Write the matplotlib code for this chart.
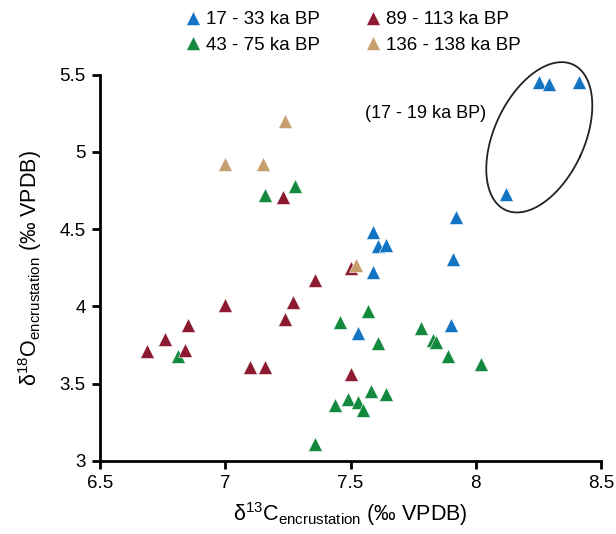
import numpy as np
import matplotlib
matplotlib.use('Agg')
from matplotlib import pyplot as plt

plt.rcParams['font.family'] = ['Liberation Sans', 'DejaVu Sans']
plt.rcParams['mathtext.fontset'] = 'custom'
plt.rcParams['mathtext.rm'] = 'Liberation Sans'

# %% Data
labels = ['17 - 33 ka BP', '43 - 75 ka BP', '89 - 113 ka BP', '136 - 138 ka BP']
colours = ['#1474c4', '#12893f', '#8c1a30', '#c79e6e']

c13_a = [8.25, 8.29, 8.41, 8.12, 7.92, 7.59, 7.61, 7.64, 7.91, 7.59, 7.90, 7.53]
o18_a = [5.45, 5.44, 5.45, 4.73, 4.58, 4.48, 4.39, 4.40, 4.31, 4.22, 3.88, 3.83]

c13_b = [7.16, 7.28, 6.81, 7.46, 7.57, 7.61, 7.78, 7.83, 7.84, 7.89, 8.02,
         7.58, 7.64, 7.49, 7.53, 7.55, 7.44, 7.36]
o18_b = [4.72, 4.78, 3.68, 3.90, 3.97, 3.76, 3.86, 3.78, 3.77, 3.68, 3.63,
         3.45, 3.43, 3.40, 3.38, 3.33, 3.36, 3.11]

c13_c = [7.23, 7.50, 7.36, 7.00, 7.27, 7.24, 6.85, 6.76, 6.69, 6.84, 7.10,
         7.16, 7.50]
o18_c = [4.71, 4.25, 4.17, 4.01, 4.03, 3.92, 3.88, 3.79, 3.71, 3.72, 3.61,
         3.61, 3.56]

c13_d = [7.24, 7.00, 7.15, 7.52]
o18_d = [5.20, 4.92, 4.92, 4.27]

groups = [(c13_a, o18_a), (c13_b, o18_b), (c13_c, o18_c), (c13_d, o18_d)]

# %% Plot
fig = plt.figure(figsize=(6.16, 5.34), dpi=100)
ax = fig.add_axes([0.162, 0.137, 0.814, 0.723])

for (x, y), lab, col in zip(groups, labels, colours):
    ax.plot(x, y, '^', ms=10.5, color=col, mec='white', mew=0.4,
            ls='none', label=lab, clip_on=False)

ax.set_xlim(6.5, 8.5)
ax.set_ylim(3, 5.5)
ax.set_xticks([6.5, 7, 7.5, 8, 8.5])
ax.set_xticklabels(['6.5', '7', '7.5', '8', '8.5'])
ax.set_yticks([3, 3.5, 4, 4.5, 5, 5.5])
ax.set_yticklabels(['3', '3.5', '4', '4.5', '5', '5.5'])

for s in ['top', 'right']:
    ax.spines[s].set_visible(False)
for s in ['left', 'bottom']:
    ax.spines[s].set_linewidth(2)
ax.tick_params(width=2, length=6, labelsize=13.5, pad=4)

ax.set_xlabel(r'δ$^{13}$C$_{\mathrm{encrustation}}$ (‰ VPDB)', fontsize=15.5,
              labelpad=6)
ax.set_ylabel(r'δ$^{18}$O$_{\mathrm{encrustation}}$ (‰ VPDB)', fontsize=15.5,
              labelpad=11)

# ellipse round the youngest group, drawn in pixel units then mapped to data
px_x, px_y = 250.5, 154.0
cx, cy = 8.253, 5.095
a, b, th = 80, 45, np.radians(25)
t = np.linspace(0, 2 * np.pi, 200)
ex = b * np.cos(t) * np.cos(th) + a * np.sin(t) * np.sin(th)
ey = -b * np.cos(t) * np.sin(th) + a * np.sin(t) * np.cos(th)
ax.plot(cx + ex / px_x, cy + ey / px_y, color='#222222', lw=1.3,
        clip_on=False)
ax.text(7.80, 5.25, '(17 - 19 ka BP)', fontsize=13, ha='center', va='center')

fig.legend(loc='upper left', bbox_to_anchor=(0.277, 1.0), ncol=2,
           frameon=False, fontsize=13.5, handletextpad=0.1,
           columnspacing=2.2, labelspacing=0.45, handlelength=1.2,
           borderaxespad=0.2)

fig.savefig('out.png', dpi=100)
